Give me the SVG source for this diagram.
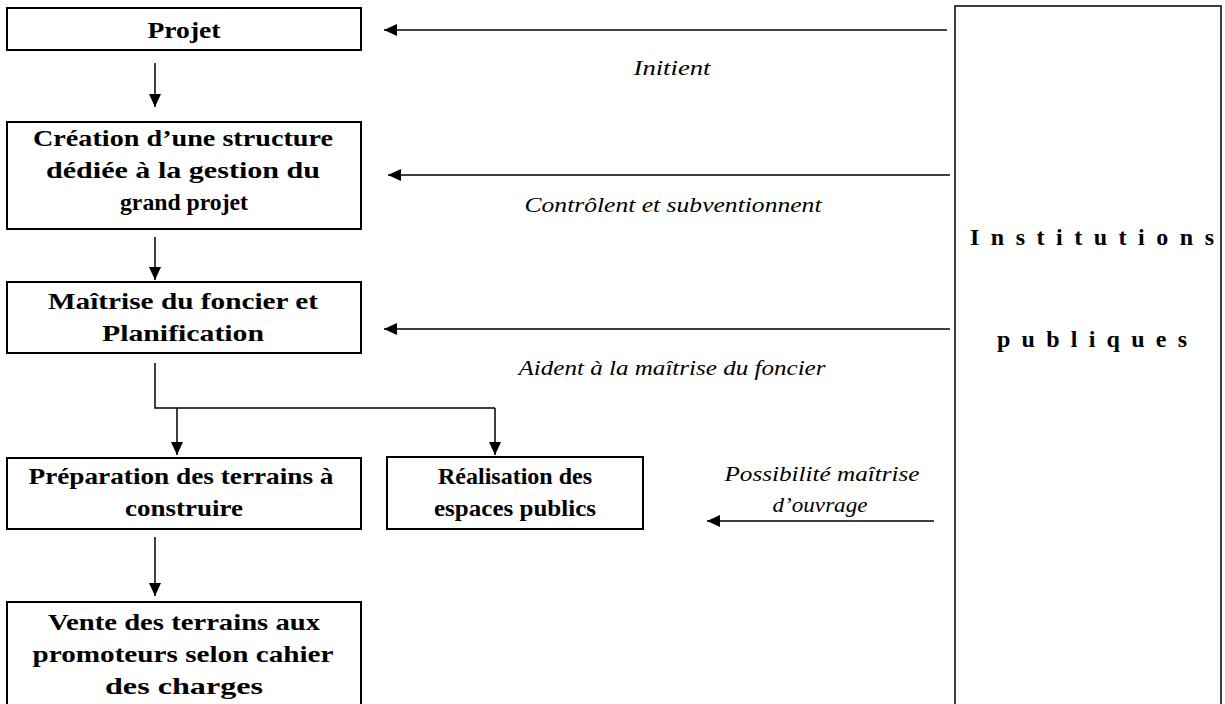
<svg xmlns="http://www.w3.org/2000/svg" width="1225" height="704" viewBox="0 0 1225 704">
<style>
.box{fill:#fff;stroke:#000;stroke-width:2}
.b{font-family:"Liberation Serif","DejaVu Serif",serif;font-weight:bold;font-size:24px;fill:#000;text-anchor:middle}
.i{font-family:"Liberation Serif","DejaVu Serif",serif;font-style:italic;font-size:21px;fill:#000;text-anchor:middle}
.t{font-family:"Liberation Serif","DejaVu Serif",serif;font-weight:bold;font-size:24px;fill:#000;text-anchor:middle}
.c{fill:none;stroke:#000;stroke-width:1.5}
</style>
<defs>
<marker id="ah" markerUnits="userSpaceOnUse" markerWidth="14" markerHeight="12" refX="13" refY="6" orient="auto">
<path d="M0,0 L13,6 L0,12 z" fill="#000"/>
</marker>
</defs>
<rect width="1225" height="704" fill="#fff"/>
<g id="n-projet">
<rect class="box" x="7" y="8" width="354" height="42"/>
<text class="b" x="184" y="38" textLength="73" lengthAdjust="spacingAndGlyphs">Projet</text>
</g>
<g id="n-structure">
<rect class="box" x="7" y="122" width="354" height="107"/>
<text class="b" x="183" y="146" textLength="300" lengthAdjust="spacingAndGlyphs">Création d’une structure</text>
<text class="b" x="183" y="178" textLength="274" lengthAdjust="spacingAndGlyphs">dédiée à la gestion du</text>
<text class="b" x="184" y="210" textLength="128" lengthAdjust="spacingAndGlyphs">grand projet</text>
</g>
<g id="n-foncier">
<rect class="box" x="7" y="282" width="354" height="71"/>
<text class="b" x="183" y="309" textLength="270" lengthAdjust="spacingAndGlyphs">Maîtrise du foncier et</text>
<text class="b" x="183" y="341" textLength="162" lengthAdjust="spacingAndGlyphs">Planification</text>
</g>
<g id="n-preparation">
<rect class="box" x="7" y="458" width="354" height="71"/>
<text class="b" x="181" y="484" textLength="305" lengthAdjust="spacingAndGlyphs">Préparation des terrains à</text>
<text class="b" x="184" y="516" textLength="118" lengthAdjust="spacingAndGlyphs">construire</text>
</g>
<g id="n-espaces">
<rect class="box" x="387" y="457" width="256" height="72"/>
<text class="b" x="515" y="484" textLength="154" lengthAdjust="spacingAndGlyphs">Réalisation des</text>
<text class="b" x="515" y="516" textLength="162" lengthAdjust="spacingAndGlyphs">espaces publics</text>
</g>
<g id="n-vente">
<rect class="box" x="7" y="602" width="354" height="110"/>
<text class="b" x="184" y="630" textLength="272" lengthAdjust="spacingAndGlyphs">Vente des terrains aux</text>
<text class="b" x="183" y="662" textLength="301" lengthAdjust="spacingAndGlyphs">promoteurs selon cahier</text>
<text class="b" x="184" y="694" textLength="158" lengthAdjust="spacingAndGlyphs">des charges</text>
</g>
<g id="n-institutions">
<rect x="955" y="6" width="266" height="710" fill="#fff" stroke="#000" stroke-width="1.5"/>
<text class="t" x="1092" y="245" textLength="244" lengthAdjust="spacing">Institutions</text>
<text class="t" x="1092" y="347" textLength="190" lengthAdjust="spacing">publiques</text>
</g>
<g id="connectors">
<line class="c" x1="155" y1="63" x2="155" y2="107" marker-end="url(#ah)"/>
<line class="c" x1="155" y1="237" x2="155" y2="280" marker-end="url(#ah)"/>
<line class="c" x1="155" y1="537" x2="155" y2="596" marker-end="url(#ah)"/>
<polyline class="c" points="155,363 155,408 495,408"/>
<line class="c" x1="177" y1="408" x2="177" y2="455" marker-end="url(#ah)"/>
<line class="c" x1="495" y1="408" x2="495" y2="455" marker-end="url(#ah)"/>
<line class="c" x1="947" y1="30" x2="384" y2="30" marker-end="url(#ah)"/>
<line class="c" x1="950" y1="175" x2="388" y2="175" marker-end="url(#ah)"/>
<line class="c" x1="950" y1="329" x2="384" y2="329" marker-end="url(#ah)"/>
<line class="c" x1="934" y1="521" x2="707" y2="521" marker-end="url(#ah)"/>
<text class="i" x="672" y="75" textLength="77" lengthAdjust="spacingAndGlyphs">Initient</text>
<text class="i" x="673" y="212" textLength="297" lengthAdjust="spacingAndGlyphs">Contrôlent et subventionnent</text>
<text class="i" x="672" y="375" textLength="307" lengthAdjust="spacingAndGlyphs">Aident à la maîtrise du foncier</text>
<text class="i" x="822" y="481" textLength="195" lengthAdjust="spacingAndGlyphs">Possibilité maîtrise</text>
<text class="i" x="820" y="512" textLength="95" lengthAdjust="spacingAndGlyphs">d’ouvrage</text>
</g>
</svg>
